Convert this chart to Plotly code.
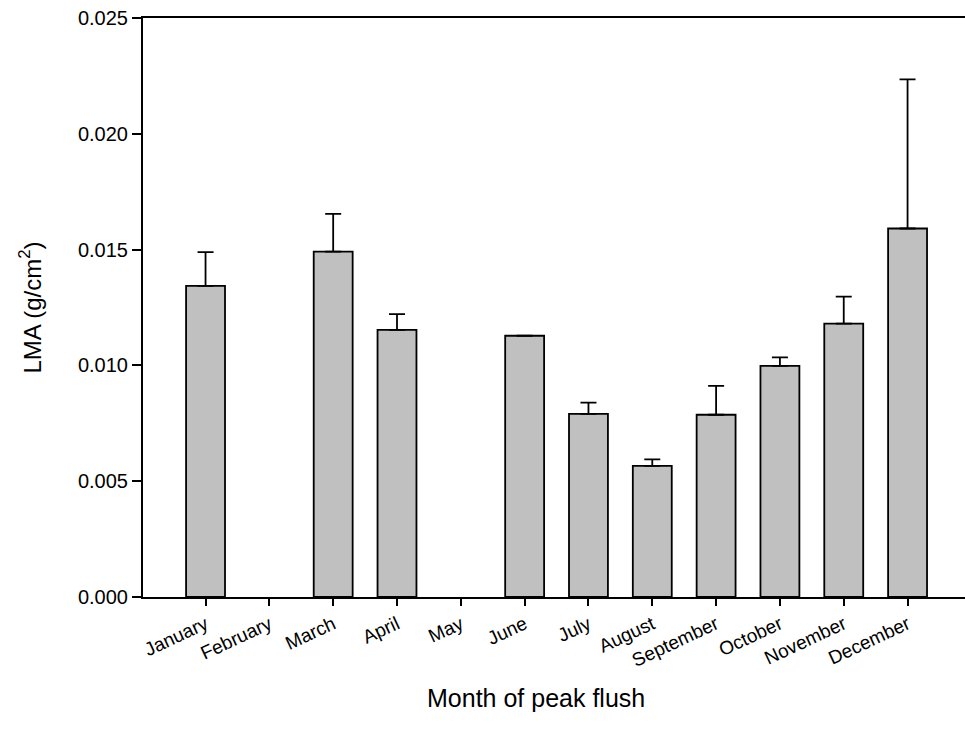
import plotly.graph_objects as go

months = ["January", "February", "March", "April", "May", "June", "July",
          "August", "September", "October", "November", "December"]
lma = [0.01343, None, 0.01491, 0.01153, None, 0.01128, 0.00791,
       0.00566, 0.00787, 0.00998, 0.01180, 0.01591]
err_plus = [0.00146, None, 0.00163, 0.00068, None, None, 0.00048,
            0.00028, 0.00125, 0.00037, 0.00117, 0.00644]
y_ticks = [0.000, 0.005, 0.010, 0.015, 0.020, 0.025]
y_tick_text = ["0.000", "0.005", "0.010", "0.015", "0.020", "0.025"]

font_family = "Liberation Sans, Arial, sans-serif"

fig = go.Figure()
fig.add_trace(go.Bar(
    x=list(range(len(months))),
    y=lma,
    width=0.61,
    marker=dict(color="#c0c0c0", line=dict(color="black", width=1.8)),
    error_y=dict(type="data", symmetric=False, array=err_plus,
                 arrayminus=[0] * len(months), color="black",
                 thickness=1.8, width=8),
    showlegend=False,
))

fig.add_annotation(
    text="Month of peak flush", xref="paper", yref="paper",
    x=0.4775, y=-0.175, xanchor="center", yanchor="middle",
    showarrow=False, font=dict(size=25),
)

fig.update_layout(
    width=965, height=743,
    margin=dict(l=143, r=0, t=18, b=146),
    paper_bgcolor="white", plot_bgcolor="white",
    font=dict(family=font_family, color="black", size=20),
    xaxis=dict(
        range=[-0.98, 11.9],
        tickmode="array",
        tickvals=list(range(len(months))),
        ticktext=months,
        tickangle=-25,
        ticks="outside", ticklen=7, tickwidth=1.5, tickcolor="black",
        showline=True, linecolor="black", linewidth=2, mirror=True,
        showgrid=False, zeroline=False,
        tickfont=dict(size=19),
        automargin=False,
    ),
    yaxis=dict(
        range=[0, 0.025],
        tickmode="array",
        tickvals=y_ticks,
        ticktext=y_tick_text,
        ticks="outside", ticklen=9, tickwidth=1.5, tickcolor="black",
        showline=True, linecolor="black", linewidth=2,
        showgrid=False, zeroline=False,
        tickfont=dict(size=20),
        title=dict(text="LMA (g/cm<sup>2</sup>)", font=dict(size=24), standoff=30),
        automargin=False,
    ),
)

fig.write_html("out.html")
